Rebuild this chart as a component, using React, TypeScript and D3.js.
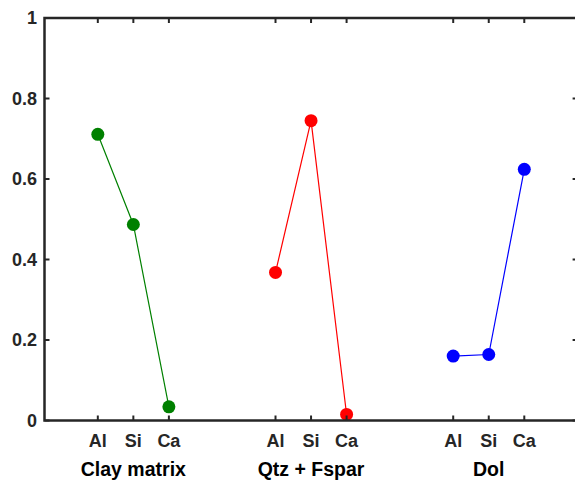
import React from "react";
import * as d3 from "d3";

const groups = ["Clay matrix", "Qtz + Fspar", "Dol"];
const elements = ["Al", "Si", "Ca"];
const positions = [1, 2, 3, 6, 7, 8, 11, 12, 13];
const clayValues = [0.711, 0.487, 0.034];
const qtzValues = [0.368, 0.745, 0.015];
const dolValues = [0.16, 0.164, 0.624];
const colors = ["#008000", "#ff0000", "#0000ff"];
const yTicks = [0, 0.2, 0.4, 0.6, 0.8, 1];

export default function App() {
  const W = 575, H = 482;
  const x = d3.scaleLinear().domain([-0.5, 14.5]).range([44.5, 577.6]);
  const y = d3.scaleLinear().domain([0, 1]).range([420.5, 18]);
  const series = [clayValues, qtzValues, dolValues];
  const line = d3.line<[number, number]>().x(d => x(d[0])).y(d => y(d[1]));
  const axisColor = "#262626";
  const font = "'Liberation Sans', Arial, sans-serif";
  const tickLen = 5;
  const tickFs = 18;
  return (
    <svg width={W} height={H} style={{ position: "absolute", left: 0, top: 0, background: "#fff" }}>
      {series.map((vals, gi) => {
        const pts: [number, number][] = vals.map((v, i) => [positions[gi * 3 + i], v]);
        return (
          <g key={gi}>
            <path d={line(pts) || ""} fill="none" stroke={colors[gi]} strokeWidth={1.2} />
            {pts.map((p, i) => (
              <circle key={i} cx={x(p[0])} cy={y(p[1])} r={6.5} fill={colors[gi]} />
            ))}
          </g>
        );
      })}
      <rect x={x(-0.5)} y={y(1)} width={x(14.5) - x(-0.5)} height={y(0) - y(1)} fill="none" stroke={axisColor} strokeWidth={2.5} />
      {positions.map((p, i) => (
        <g key={i}>
          <line x1={x(p)} x2={x(p)} y1={y(0)} y2={y(0) - tickLen} stroke={axisColor} strokeWidth={2} />
          <line x1={x(p)} x2={x(p)} y1={y(1)} y2={y(1) + tickLen} stroke={axisColor} strokeWidth={2} />
          <text x={x(p)} y={447} textAnchor="middle" fontFamily={font} fontWeight="bold" fontSize={tickFs} fill={axisColor}>
            {elements[i % 3]}
          </text>
        </g>
      ))}
      {groups.map((g, gi) => (
        <text key={g} x={x(positions[gi * 3 + 1])} y={476} textAnchor="middle" fontFamily={font} fontWeight="bold" fontSize={19.5} fill="#000">
          {g}
        </text>
      ))}
      {yTicks.map((t, i) => (
        <g key={i}>
          <line x1={x(-0.5)} x2={x(-0.5) + tickLen} y1={y(t)} y2={y(t)} stroke={axisColor} strokeWidth={2} />
          <line x1={x(14.5)} x2={x(14.5) - tickLen} y1={y(t)} y2={y(t)} stroke={axisColor} strokeWidth={2} />
          <text x={37} y={y(t) + tickFs * 0.36} textAnchor="end" fontFamily={font} fontWeight="bold" fontSize={tickFs} fill={axisColor}>
            {d3.format("~g")(t)}
          </text>
        </g>
      ))}
    </svg>
  );
}
